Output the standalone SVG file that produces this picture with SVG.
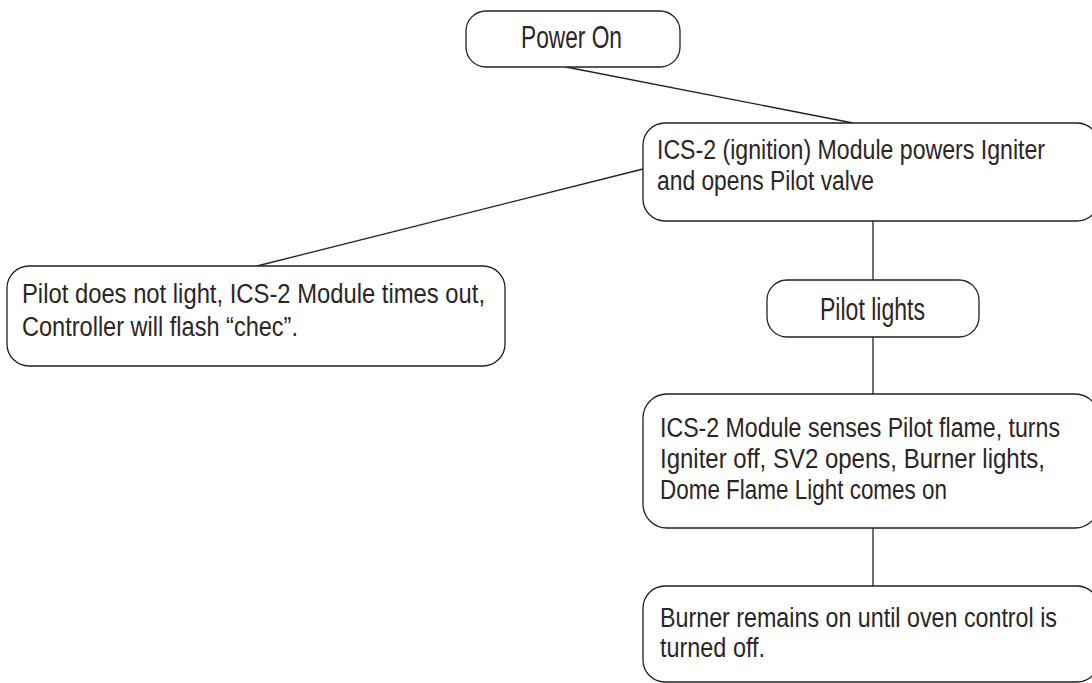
<svg xmlns="http://www.w3.org/2000/svg" width="1092" height="683" viewBox="0 0 1092 683">
<style>
.box{fill:#fff;stroke:#231f20;stroke-width:1.3}
.ln{stroke:#231f20;stroke-width:1.3;fill:none}
.t{font-family:"Liberation Sans Narrow","Liberation Sans",Arial,sans-serif;fill:#2a2627}
.s{font-size:31px}
.m{font-size:27px}
</style>
<rect width="1092" height="683" fill="#fff"/>
<g id="connectors">
<line class="ln" x1="566" y1="67" x2="853" y2="123"/>
<line class="ln" x1="257" y1="266" x2="643" y2="169"/>
<line class="ln" x1="873" y1="221" x2="873" y2="280"/>
<line class="ln" x1="873" y1="337" x2="873" y2="394"/>
<line class="ln" x1="873" y1="528" x2="873" y2="586"/>
</g>
<g id="power-on">
<rect class="box" x="466" y="11" width="214" height="56" rx="20"/>
<text class="t s" x="521" y="48" textLength="101" lengthAdjust="spacingAndGlyphs">Power On</text>
</g>
<g id="ics2-powers">
<rect class="box" x="643" y="123" width="456" height="98" rx="22"/>
<text class="t m" x="657" y="159" textLength="388" lengthAdjust="spacingAndGlyphs">ICS-2 (ignition) Module powers Igniter</text>
<text class="t m" x="657" y="190" textLength="217" lengthAdjust="spacingAndGlyphs">and opens Pilot valve</text>
</g>
<g id="pilot-not-light">
<rect class="box" x="7" y="266" width="498" height="100" rx="22"/>
<text class="t m" x="22" y="303" textLength="463" lengthAdjust="spacingAndGlyphs">Pilot does not light, ICS-2 Module times out,</text>
<text class="t m" x="22" y="336" textLength="276" lengthAdjust="spacingAndGlyphs">Controller will flash “chec”.</text>
</g>
<g id="pilot-lights">
<rect class="box" x="767" y="280" width="212" height="57" rx="20"/>
<text class="t s" x="820" y="320" textLength="105" lengthAdjust="spacingAndGlyphs">Pilot lights</text>
</g>
<g id="ics2-senses">
<rect class="box" x="643" y="394" width="456" height="134" rx="24"/>
<text class="t m" x="660" y="437" textLength="400" lengthAdjust="spacingAndGlyphs">ICS-2 Module senses Pilot flame, turns</text>
<text class="t m" x="660" y="468" textLength="385" lengthAdjust="spacingAndGlyphs">Igniter off, SV2 opens, Burner lights,</text>
<text class="t m" x="660" y="499" textLength="287" lengthAdjust="spacingAndGlyphs">Dome Flame Light comes on</text>
</g>
<g id="burner-on">
<rect class="box" x="643" y="586" width="456" height="96" rx="22"/>
<text class="t m" x="660" y="627" textLength="397" lengthAdjust="spacingAndGlyphs">Burner remains on until oven control is</text>
<text class="t m" x="660" y="657" textLength="105" lengthAdjust="spacingAndGlyphs">turned off.</text>
</g>
</svg>
